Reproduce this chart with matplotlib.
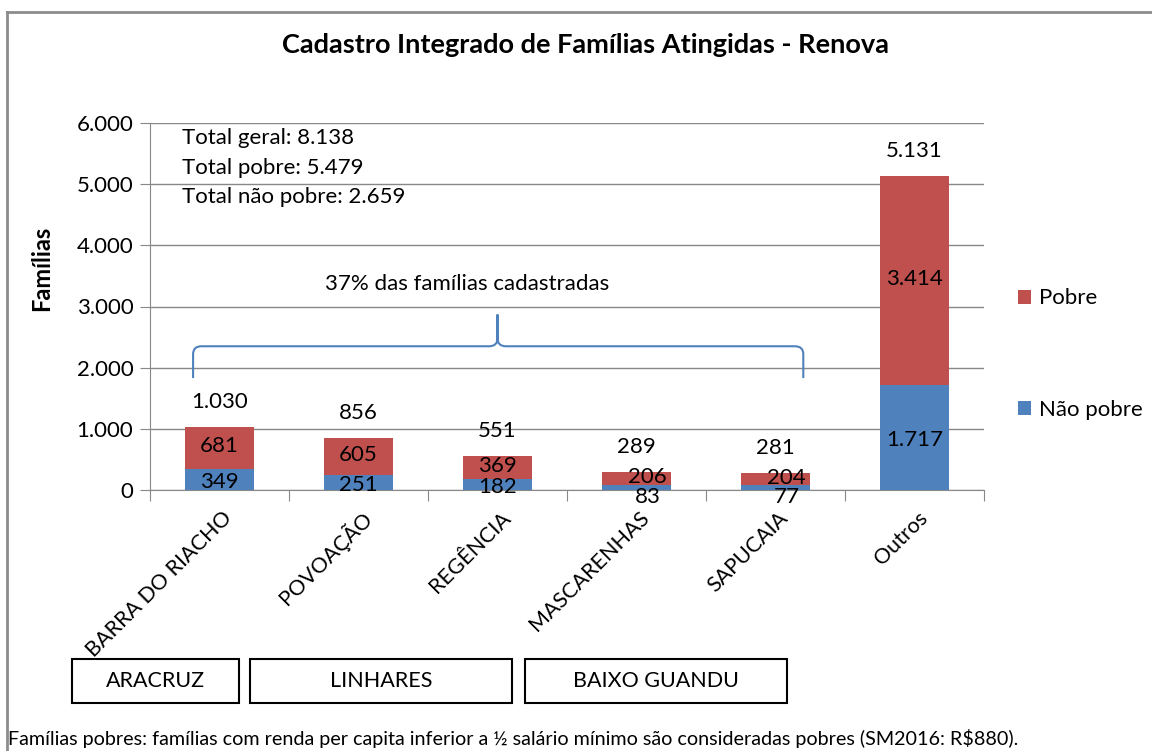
import matplotlib.pyplot as plt
import numpy as np
from matplotlib.patches import Rectangle, PathPatch
from matplotlib.path import Path
from matplotlib.lines import Line2D
from matplotlib.ticker import FuncFormatter

plt.rcParams['font.family'] = ['Lato', 'DejaVu Sans']

# data
localidades = ['BARRA DO RIACHO', 'POVOAÇÃO', 'REGÊNCIA', 'MASCARENHAS', 'SAPUCAIA', 'Outros']
nao_pobre = [349, 251, 182, 83, 77, 1717]
pobre = [681, 605, 369, 206, 204, 3414]
totais = [1030, 856, 551, 289, 281, 5131]
municipios = ['ARACRUZ', 'LINHARES', 'BAIXO GUANDU']
resumo = ['Total geral: 8.138', 'Total pobre: 5.479', 'Total não pobre: 2.659']

W, H = 1152, 751
RED = '#C0504D'
BLUE = '#4F81BD'
GRID = '#888888'
FS = 16


def px(x, y):
    # pixel position (top-left origin) -> figure fraction
    return x / W, 1 - y / H


def fmt(v):
    return f'{v:,.0f}'.replace(',', '.')


fig = plt.figure(figsize=(W / 100, H / 100), dpi=100)
ax = fig.add_axes([150 / W, 1 - 490 / H, 834 / W, 367 / H])

x = np.arange(len(localidades))
b1 = ax.bar(x, nao_pobre, width=0.5, color=BLUE, label='Não pobre', zorder=3)
b2 = ax.bar(x, pobre, width=0.5, bottom=nao_pobre, color=RED, label='Pobre', zorder=3)

ax.set_xlim(-0.5, len(localidades) - 0.5)
ax.set_ylim(0, 6000)
ax.set_yticks(np.arange(0, 6001, 1000))
ax.yaxis.set_major_formatter(FuncFormatter(lambda v, p: fmt(v)))
ax.grid(axis='y', color=GRID, lw=1, zorder=0)
for s in ['top', 'right']:
    ax.spines[s].set_visible(False)
for s in ['left', 'bottom']:
    ax.spines[s].set_color(GRID)
ax.tick_params(axis='y', length=7, color=GRID, labelsize=FS, pad=5)

# category boundaries as ticks, names as rotated labels
ax.set_xticks(np.arange(-0.5, len(localidades), 1.0))
ax.set_xticklabels([])
ax.tick_params(axis='x', length=8, color=GRID)
for i, name in enumerate(localidades):
    ax.annotate(name, xy=(i, 0), xycoords='data', xytext=(7, -18),
                textcoords='offset points', rotation=45, rotation_mode='anchor',
                ha='right', va='center', fontsize=15.5)

# data labels
for i in range(len(localidades)):
    small = totais[i] < 300
    dx = 8 if small else 0
    ax.annotate(fmt(nao_pobre[i]), xy=(i, nao_pobre[i] / 2), xytext=(dx, -7 if small else -2),
                textcoords='offset points', ha='center', va='center', fontsize=FS, zorder=5)
    ax.annotate(fmt(pobre[i]), xy=(i, nao_pobre[i] + pobre[i] / 2), xytext=(dx, 1),
                textcoords='offset points', ha='center', va='center', fontsize=FS, zorder=5)
    ax.annotate(fmt(totais[i]), xy=(i, totais[i]), xytext=(0, 18),
                textcoords='offset points', ha='center', va='center', fontsize=FS)

# curly brace over the first five localities
x0, x1, xc = -0.19, 4.2, 2.0
y_end, y_h, y_tip = 1830, 2350, 2870
rx, ry = 0.06, 130
verts = [(x0, y_end), (x0, y_h - ry), (x0, y_h), (x0 + rx, y_h),
         (xc - rx, y_h), (xc, y_h), (xc, y_h + ry), (xc, y_tip),
         (xc, y_tip), (xc, y_h + ry), (xc, y_h), (xc + rx, y_h),
         (x1 - rx, y_h), (x1, y_h), (x1, y_h - ry), (x1, y_end)]
codes = [Path.MOVETO, Path.LINETO, Path.CURVE3, Path.CURVE3,
         Path.LINETO, Path.CURVE3, Path.CURVE3, Path.LINETO,
         Path.MOVETO, Path.LINETO, Path.CURVE3, Path.CURVE3,
         Path.LINETO, Path.CURVE3, Path.CURVE3, Path.LINETO]
ax.add_patch(PathPatch(Path(verts, codes), fill=False, edgecolor=BLUE, lw=1.5, zorder=4))

# texts
fig.text(*px(585, 45), 'Cadastro Integrado de Famílias Atingidas - Renova',
         ha='center', va='center', fontsize=19.5, fontweight='bold')
fig.text(*px(42, 268), 'Famílias', rotation=90, ha='center', va='center',
         fontsize=17, fontweight='bold')
for k, line in enumerate(resumo):
    fig.text(*px(182, 138 + 29.5 * k), line, ha='left', va='center', fontsize=FS)
fig.text(*px(467, 284), '37% das famílias cadastradas', ha='center', va='center', fontsize=FS)
fig.text(*px(8, 738), 'Famílias pobres: famílias com renda per capita inferior a ½ salário mínimo '
         'são consideradas pobres (SM2016: R$880).', ha='left', va='center', fontsize=14.2)

# legend
leg = fig.legend(handles=[b2, b1], loc='center left', bbox_to_anchor=px(998, 354),
                 frameon=False, fontsize=FS, handlelength=0.6, handleheight=0.6,
                 handletextpad=0.35, labelspacing=4.1)

# municipality boxes
boxes = [(72, 239), (250, 512), (525, 787)]
for (bx0, bx1), name in zip(boxes, municipios):
    fx0, fy1 = px(bx0, 659)
    fx1, fy0 = px(bx1, 703)
    fig.add_artist(Rectangle((fx0, fy0), fx1 - fx0, fy1 - fy0, transform=fig.transFigure,
                             fill=False, edgecolor='black', lw=1.5))
    fig.text((fx0 + fx1) / 2, (fy0 + fy1) / 2, name, ha='center', va='center', fontsize=15.5)

# outer chart border (top and left visible)
fig.add_artist(Line2D([7 / W, 1.01], [1 - 12 / H] * 2, transform=fig.transFigure,
                      color='#8C8C8C', lw=2))
fig.add_artist(Line2D([7 / W] * 2, [1 - 12 / H, -0.01], transform=fig.transFigure,
                      color='#8C8C8C', lw=2))

fig.savefig('out.png', dpi=100)
